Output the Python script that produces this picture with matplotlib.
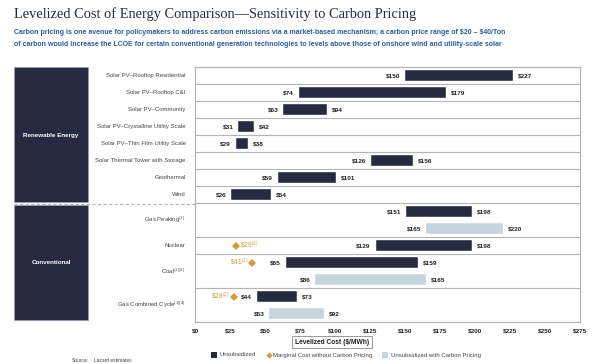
import matplotlib.pyplot as plt
from matplotlib.patches import Rectangle
from matplotlib.lines import Line2D
import matplotlib.transforms as mtransforms

plt.rcParams['font.family'] = ['Liberation Sans', 'DejaVu Sans']
plt.rcParams['mathtext.fontset'] = 'custom'
plt.rcParams['mathtext.rm'] = 'Liberation Sans'
plt.rcParams['mathtext.it'] = 'Liberation Sans'

# Data
labels = ["Solar PV\u2013Rooftop Residential", "Solar PV\u2013Rooftop C&I", "Solar PV\u2013Community",
          "Solar PV\u2013Crystalline Utility Scale", "Solar PV\u2013Thin Film Utility Scale",
          "Solar Thermal Tower with Storage", "Geothermal", "Wind",
          r"Gas Peaking$^{(1)}$", "Nuclear", r"Coal$^{(1)(3)}$", r"Gas Combined Cycle$^{(1)(4)}$"]
label_rows = [0.5, 1.5, 2.5, 3.5, 4.5, 5.5, 6.5, 7.5, 9.0, 10.5, 12.0, 14.0]

unsub_rows = [0, 1, 2, 3, 4, 5, 6, 7, 8, 10, 11, 13]
unsub_low = [150, 74, 63, 31, 29, 126, 59, 26, 151, 129, 65, 44]
unsub_high = [227, 179, 94, 42, 38, 156, 101, 54, 198, 198, 159, 73]

carbon_rows = [9, 12, 14]
carbon_low = [165, 86, 53]
carbon_high = [220, 165, 92]

marg_rows = [10, 11, 13]
marg_vals = [29, 41, 28]
marg_side = ["right", "left", "left"]

separators = [1, 2, 3, 4, 5, 6, 7, 8, 10, 11, 13]
xticks = list(range(0, 276, 25))

DARK = "#252a40"
LIGHT = "#c6d4de"
GOLD = "#d39b3c"
GRID = "#b4b4b4"

W, H = 600, 364
fig = plt.figure(figsize=(6, 3.64), dpi=100)

def fx(px):
    return px / W

def fy(py):
    return 1 - py / H

ax = fig.add_axes([fx(195), fy(322), fx(385), (322 - 67) / H])
ax.set_xlim(0, 275)
ax.set_ylim(15, 0)

bh = 0.66
to = 3.5
vfs = 4.6
for r, lo, hi in zip(unsub_rows, unsub_low, unsub_high):
    ax.barh(r + 0.5, hi - lo, left=lo, height=bh, color=DARK, edgecolor="white", linewidth=0.3)
    ax.text(lo - to, r + 0.5, f"\\${lo}", ha="right", va="center", fontsize=vfs, fontweight="bold", color="#222222")
    ax.text(hi + to, r + 0.5, f"\\${hi}", ha="left", va="center", fontsize=vfs, fontweight="bold", color="#222222")
for r, lo, hi in zip(carbon_rows, carbon_low, carbon_high):
    ax.barh(r + 0.5, hi - lo, left=lo, height=bh, color=LIGHT, edgecolor="white", linewidth=0.3)
    ax.text(lo - to, r + 0.5, f"\\${lo}", ha="right", va="center", fontsize=vfs, fontweight="bold", color="#222222")
    ax.text(hi + to, r + 0.5, f"\\${hi}", ha="left", va="center", fontsize=vfs, fontweight="bold", color="#222222")
for r, v, side in zip(marg_rows, marg_vals, marg_side):
    ax.plot(v, r + 0.5, marker="D", color=GOLD, markersize=3.6, markeredgewidth=0)
    txt = f"\\${v}" + r"$^{(2)}$"
    if side == "right":
        ax.text(v + 3, r + 0.5, txt, ha="left", va="center", fontsize=4.8, color=GOLD)
    else:
        ax.text(v - 3, r + 0.5, txt, ha="right", va="center", fontsize=4.8, color=GOLD)

for s in separators:
    ax.axhline(s, color=GRID, linewidth=0.8, zorder=0)

for sp in ax.spines.values():
    sp.set_color(GRID)
    sp.set_linewidth(0.9)

ax.set_yticks([])
ax.set_xticks(xticks)
ax.set_xticklabels([f"\\${t}" for t in xticks], fontsize=vfs, fontweight="bold", color="#222222")
ax.tick_params(axis="x", length=0, pad=5)

# row labels
trans = mtransforms.blended_transform_factory(ax.transAxes, ax.transData)
for lab, r in zip(labels, label_rows):
    ax.text(-0.024, r, lab, transform=trans, ha="right", va="center", fontsize=4.3, color="#444444")

# left category boxes
fig.patches.append(Rectangle((fx(14), fy(202)), fx(74), (202 - 67) / H, transform=fig.transFigure,
                             facecolor=DARK, edgecolor="#9aa0b0", linewidth=0.5))
fig.patches.append(Rectangle((fx(14), fy(320)), fx(74), (320 - 205) / H, transform=fig.transFigure,
                             facecolor=DARK, edgecolor="#9aa0b0", linewidth=0.5))
fig.text(fx(51), fy(135), "Renewable Energy", ha="center", va="center", fontsize=4.5, fontweight="bold", color="white")
fig.text(fx(51), fy(262), "Conventional", ha="center", va="center", fontsize=4.5, fontweight="bold", color="white")
fig.lines.append(Line2D([fx(14), fx(195)], [fy(203.5), fy(203.5)], transform=fig.transFigure,
                        color=GRID, linewidth=0.8, linestyle=(0, (3, 2))))

# titles
fig.text(fx(14), fy(14), "Levelized Cost of Energy Comparison\u2014Sensitivity to Carbon Pricing",
         fontsize=10.4, family="Liberation Serif", color="#262b40", va="center", ha="left")
fig.text(fx(14), fy(32), "Carbon pricing is one avenue for policymakers to address carbon emissions via a market-based mechanism; a carbon price range of \\$20 \u2013 \\$40/Ton",
         fontsize=5.0, color="#2d5d9a", fontweight="bold", va="center", ha="left")
fig.text(fx(14), fy(44), "of carbon would increase the LCOE for certain conventional generation technologies to levels above those of onshore wind and utility-scale solar",
         fontsize=5.0, color="#2d5d9a", fontweight="bold", va="center", ha="left")

# axis label box
fig.text(fx(332), fy(342), "Levelized Cost (\\$/MWh)", ha="center", va="center", fontsize=4.8, fontweight="bold",
         color="#222222", bbox=dict(boxstyle="square,pad=0.4", facecolor="white", edgecolor="#888888", linewidth=0.6))

# legend
lfs = 4.3
fig.patches.append(Rectangle((fx(211), fy(358)), fx(6), 6 / H, transform=fig.transFigure, facecolor=DARK))
fig.text(fx(219), fy(355), "Unsubsidized", fontsize=lfs, color="#444444", va="center", ha="left")
fig.lines.append(Line2D([fx(269)], [fy(355)], transform=fig.transFigure, marker="D", color=GOLD,
                        markersize=3.2, markeredgewidth=0))
fig.text(fx(273), fy(355), "Marginal Cost without Carbon Pricing", fontsize=lfs, color="#444444", va="center", ha="left")
fig.patches.append(Rectangle((fx(382), fy(358)), fx(6), 6 / H, transform=fig.transFigure, facecolor=LIGHT))
fig.text(fx(391), fy(355), "Unsubsidized with Carbon Pricing", fontsize=lfs, color="#444444", va="center", ha="left")

fig.text(fx(72), fy(361), "Source:", fontsize=3.5, color="#444444", va="center", ha="left")
fig.text(fx(94), fy(361), "Lazard estimates", fontsize=3.5, color="#444444", va="center", ha="left")

fig.savefig("out.png", dpi=100, facecolor="white")
